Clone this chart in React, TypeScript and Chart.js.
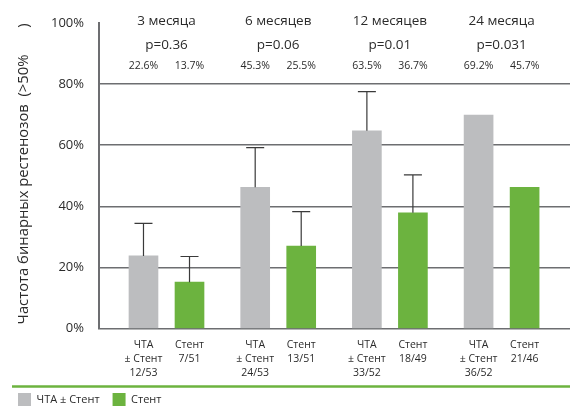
import React, { useEffect, useRef } from "react";
import { Chart, registerables } from "chart.js";

Chart.register(...registerables);

const groupTitles = ["3 месяца", "6 месяцев", "12 месяцев", "24 месяца"];
const pValues = ["p=0.36", "p=0.06", "p=0.01", "p=0.031"];
const ptaLabels = ["22.6%", "45.3%", "63.5%", "69.2%"];
const stentLabels = ["13.7%", "25.5%", "36.7%", "45.7%"];
const ptaValues = [23.8, 46.2, 64.7, 69.8];
const stentValues = [15.2, 27.0, 37.9, 46.2];
const ptaErrTop = [34.4, 59.2, 77.5, null];
const stentErrTop = [23.6, 38.3, 50.3, null];
const ptaCounts = ["12/53", "24/53", "33/52", "36/52"];
const stentCounts = ["7/51", "13/51", "18/49", "21/46"];
const yTicks = [0, 20, 40, 60, 80, 100];
const seriesNames = ["ЧТА ± Стент", "Стент"];

const GRAY = "#bcbdbf";
const GREEN = "#6cb33f";
const TEXT = "#2b2b2b";
const FONT = "'Open Sans', sans-serif";
const BAR_OFFSET = 0.206;

const overlayPlugin = {
  id: "overlay",
  afterDatasetsDraw(chart: any) {
    const { ctx } = chart;
    const x = chart.scales.x;
    const y = chart.scales.y;
    const metaA = chart.getDatasetMeta(0);
    const metaB = chart.getDatasetMeta(1);
    ctx.save();
    const drawErr = (meta: any, tops: (number | null)[]) => {
      tops.forEach((t, i) => {
        if (t == null) return;
        const el = meta.data[i];
        const cy = y.getPixelForValue(t);
        ctx.strokeStyle = "#3a3a3a";
        ctx.lineWidth = 1.2;
        ctx.beginPath();
        ctx.moveTo(el.x, el.y);
        ctx.lineTo(el.x, cy);
        ctx.moveTo(el.x - 9, cy);
        ctx.lineTo(el.x + 9, cy);
        ctx.stroke();
      });
    };
    drawErr(metaA, ptaErrTop);
    drawErr(metaB, stentErrTop);
    ctx.fillStyle = TEXT;
    ctx.textAlign = "center";
    ctx.textBaseline = "middle";
    groupTitles.forEach((t, i) => {
      const cx = x.getPixelForValue(i);
      ctx.font = `13.5px ${FONT}`;
      ctx.fillText(t, cx, 21);
      ctx.fillText(pValues[i], cx, 45);
      ctx.font = `10.5px ${FONT}`;
      ctx.fillText(ptaLabels[i], metaA.data[i].x, 66);
      ctx.fillText(stentLabels[i], metaB.data[i].x, 66);
    });
    ctx.restore();
  },
  afterDraw(chart: any) {
    const { ctx } = chart;
    ctx.save();
    ctx.strokeStyle = GREEN;
    ctx.lineWidth = 2.5;
    ctx.beginPath();
    ctx.moveTo(12, 386.5);
    ctx.lineTo(chart.width, 386.5);
    ctx.stroke();
    ctx.restore();
  },
};

export default function App() {
  const ref = useRef<HTMLCanvasElement>(null);
  useEffect(() => {
    document.body.style.margin = "0";
    const tickPositions: number[] = [];
    const tickTexts: string[][] = [];
    groupTitles.forEach((_, i) => {
      tickPositions.push(i - BAR_OFFSET);
      tickTexts.push(["ЧТА", "± Стент", ptaCounts[i]]);
      tickPositions.push(i + BAR_OFFSET);
      tickTexts.push(["Стент", stentCounts[i]]);
    });
    const chart = new Chart(ref.current as HTMLCanvasElement, {
      type: "bar",
      data: {
        datasets: [
          {
            label: seriesNames[0],
            data: ptaValues.map((v, i) => ({ x: i - BAR_OFFSET, y: v })),
            backgroundColor: GRAY,
            borderWidth: 0,
          },
          {
            label: seriesNames[1],
            data: stentValues.map((v, i) => ({ x: i + BAR_OFFSET, y: v })),
            backgroundColor: GREEN,
            borderWidth: 0,
          },
        ],
      },
      options: {
        animation: false,
        responsive: false,
        events: [],
        grouped: false,
        barThickness: 29,
        layout: { padding: { top: 15, left: 5, right: 0, bottom: -9 } },
        plugins: {
          tooltip: { enabled: false },
          legend: {
            position: "bottom",
            align: "start",
            labels: {
              boxWidth: 13,
              boxHeight: 13,
              padding: 13,
              color: TEXT,
              font: { family: FONT, size: 11 },
            },
          },
        },
        scales: {
          x: {
            type: "linear",
            min: -0.6043,
            max: 3.6124,
            offset: false,
            grid: { display: false, drawTicks: false },
            border: { display: false },
            afterFit: (s: any) => {
              s.height = 51.3;
            },
            afterBuildTicks: (s: any) => {
              s.ticks = tickPositions.map((v) => ({ value: v }));
            },
            ticks: {
              autoSkip: false,
              maxRotation: 0,
              padding: 9,
              color: TEXT,
              font: { family: FONT, size: 10.5, lineHeight: 1.33 },
              callback: (_v: any, idx: number) => tickTexts[idx],
            },
          },
          y: {
            min: 0,
            max: 100,
            afterFit: (s: any) => {
              s.width = 94;
            },
            afterBuildTicks: (s: any) => {
              s.ticks = yTicks.map((v) => ({ value: v }));
            },
            grid: {
              color: (c: any) => (c.tick && c.tick.value === 100 ? "rgba(0,0,0,0)" : "#6d6e71"),
              lineWidth: 1.5,
              drawTicks: false,
            },
            border: { display: true, color: "#6d6e71", width: 2 },
            ticks: {
              padding: 15,
              color: TEXT,
              font: { family: FONT, size: 13 },
              callback: (v: any) => v + "%",
            },
            title: {
              display: true,
              text: " Частота бинарных рестенозов  (>50%       )",
              color: TEXT,
              font: { family: FONT, size: 14.8 },
              padding: { top: 10, bottom: 0 },
            },
          },
        },
      },
      plugins: [overlayPlugin],
    } as any);
    return () => chart.destroy();
  }, []);
  return (
    <div style={{ width: 570, height: 407 }}>
      <canvas ref={ref} width={570} height={407} />
    </div>
  );
}
